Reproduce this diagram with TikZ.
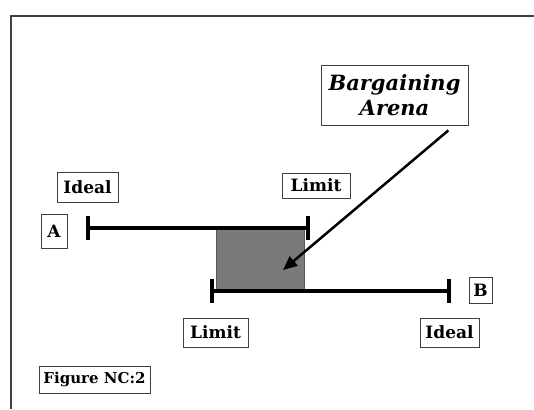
\documentclass[tikz,border=0pt]{standalone}
\usepackage{fontspec}
\setmainfont{DejaVu Serif}
\usetikzlibrary{arrows.meta}
\begin{document}
\begin{tikzpicture}[x=1pt,y=-1pt,
  lbl/.style={draw=black!75, line width=0.8pt, fill=white, inner sep=0pt,
    font=\bfseries\fontsize{17}{20}\selectfont},
  bar/.style={line width=3.5pt, black},
  pointer/.style={line width=2.5pt, -{Triangle[length=14pt,width=12pt]}}]
\useasboundingbox (0,0) rectangle (534,409);
% frame
\draw[line width=1.4pt, black!75] (11,409) -- (11,16) -- (534,16);
% bargaining arena
\fill[black!52, draw=black!65, line width=0.6pt] (216,227) rectangle (304,291);
% party A range
\coordinate (a1) at (88,228);
\coordinate (a2) at (308,228);
\draw[bar] (a1) -- (a2);
\draw[bar] ([yshift=12pt]a1) -- ([yshift=-12pt]a1);
\draw[bar] ([yshift=12pt]a2) -- ([yshift=-12pt]a2);
% party B range
\coordinate (b1) at (212,291);
\coordinate (b2) at (449,291);
\draw[bar] (b1) -- (b2);
\draw[bar] ([yshift=12pt]b1) -- ([yshift=-12pt]b1);
\draw[bar] ([yshift=12pt]b2) -- ([yshift=-12pt]b2);
% labels
\node[lbl, minimum width=61pt, minimum height=30pt] (ideal1) at (87.5,187) {Ideal};
\node[lbl, minimum width=26pt, minimum height=34pt] (A) at (54,231) {A};
\node[lbl, minimum width=68pt, minimum height=25pt] (limit1) at (316,185.5) {Limit};
\node[lbl, minimum width=23pt, minimum height=26pt] (B) at (480.5,290) {B};
\node[lbl, minimum width=65pt, minimum height=29pt] (limit2) at (215.5,332.5) {Limit};
\node[lbl, minimum width=59pt, minimum height=29pt] (ideal2) at (449.5,332.5) {Ideal};
\node[lbl, minimum width=111pt, minimum height=27pt, font=\bfseries\fontsize{15}{18}\selectfont] (fig) at (94.5,379.5) {Figure NC:2};
\node[lbl, minimum width=147pt, minimum height=60pt, align=center,
  font=\bfseries\itshape\fontsize{21}{25}\selectfont] (arena) at (394.5,95) {Bargaining\\Arena};
\coordinate (tip) at (283,270);
\draw[pointer] ([xshift=-20pt,yshift=-5pt]arena.south east) -- (tip);
\end{tikzpicture}
\end{document}
